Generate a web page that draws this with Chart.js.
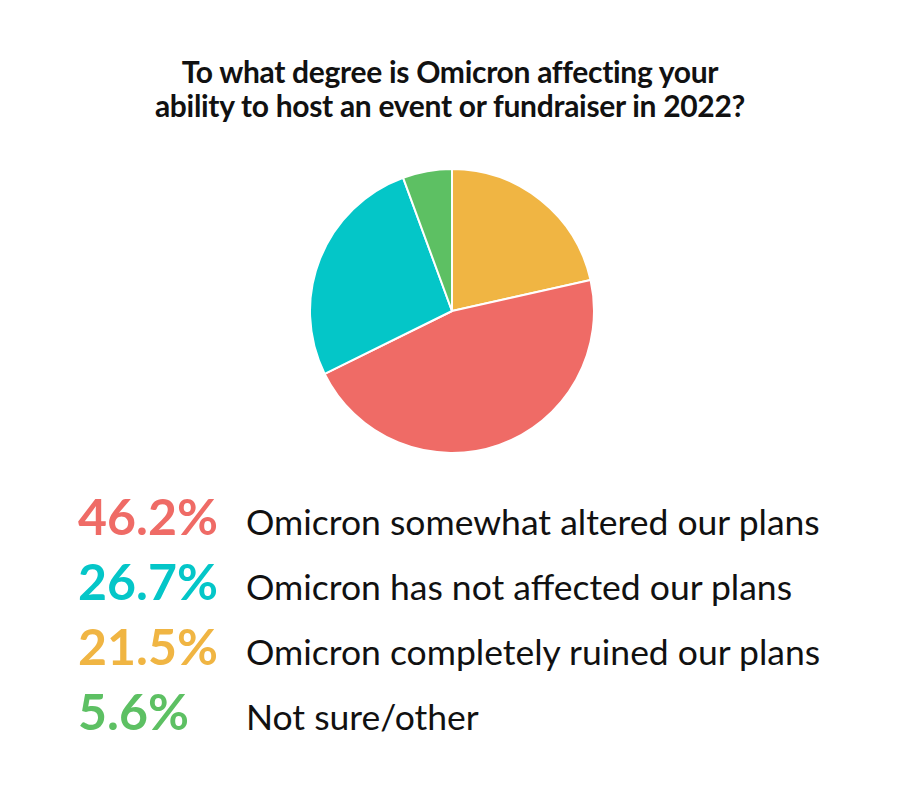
<!DOCTYPE html>
<html>
<head>
<meta charset="utf-8">
<script src="https://cdn.jsdelivr.net/npm/chart.js@4"></script>
<style>
  body { margin: 0; width: 900px; height: 798px; background: #fff; font-family: Lato, sans-serif; position: relative; overflow: hidden; }
  #titulo { position: absolute; top: 54px; left: 0; width: 900px; text-align: center; font-weight: bold; font-size: 30px; line-height: 34px; color: #111; letter-spacing: -0.3px; }
  #pieBox { position: absolute; left: 309px; top: 168px; width: 286px; height: 286px; }
  #leyenda { position: absolute; left: 78px; top: 486px; }
  .fila { display: flex; align-items: baseline; height: 65px; }
  .pct { width: 168px; font-weight: bold; font-size: 50px; }
  .txt { font-size: 35.5px; color: #111; }
</style>
</head>
<body>
<div id="titulo">To what degree is Omicron affecting your<br>ability to host an event or fundraiser in 2022?</div>
<div id="pieBox"><canvas id="pieChart"></canvas></div>
<div id="leyenda"></div>
<script>
// orden del pastel, en sentido horario desde arriba
const etiquetas = ["Omicron completely ruined our plans", "Omicron somewhat altered our plans", "Omicron has not affected our plans", "Not sure/other"];
const valores = [21.5, 46.2, 26.7, 5.6];
const colores = ["#F0B543", "#EF6B66", "#04C6C8", "#5DC063"];

// orden de la leyenda
const ordenLeyenda = [1, 2, 0, 3];

new Chart(document.getElementById("pieChart"), {
    type: "pie",
    data: {
        labels: etiquetas,
        datasets: [{
            data: valores,
            backgroundColor: colores,
            borderColor: "#fff",
            borderWidth: 2
        }]
    },
    options: {
        responsive: true,
        maintainAspectRatio: false,
        animation: false,
        plugins: {
            legend: { display: false },
            tooltip: { enabled: false }
        }
    }
});

const leyenda = document.getElementById("leyenda");
ordenLeyenda.forEach(i => {
    leyenda.innerHTML += `
        <div class="fila">
            <div class="pct" style="color:${colores[i]}">${valores[i]}%</div>
            <div class="txt">${etiquetas[i]}</div>
        </div>`;
});
</script>
</body>
</html>
